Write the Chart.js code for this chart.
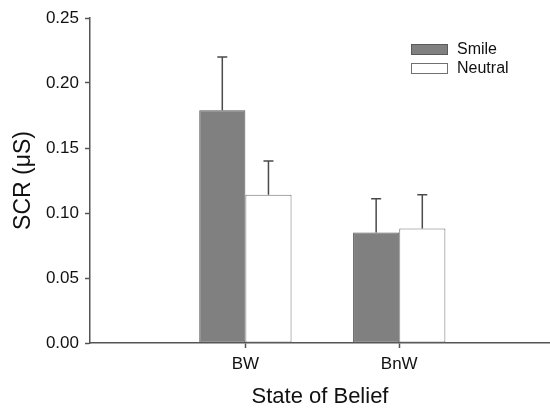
<!DOCTYPE html>
<html>
<head>
<meta charset="utf-8">
<script src="https://cdn.jsdelivr.net/npm/chart.js@4/dist/chart.umd.min.js"></script>
<style>
  html, body { margin: 0; padding: 0; background: #ffffff; }
  #wrap { width: 550px; height: 408px; }
</style>
</head>
<body>
<div id="wrap"><canvas id="grafico"></canvas></div>
<script>
// dados
const categorias = ['BW', 'BnW'];
const smile = [0.179, 0.085];
const neutral = [0.114, 0.088];
const erroSmile = [0.041, 0.026];
const erroNeutral = [0.026, 0.026];
const ticksY = [0, 0.05, 0.10, 0.15, 0.20, 0.25];

const fonte = "'Liberation Sans', Arial, sans-serif";
const corEixo = '#555555';

// pontos {x, y} a partir dos arrays (x = posição da categoria)
function pontos(valores) {
  return valores.map((v, i) => ({ x: i + 1, y: v }));
}

// barras de erro (só para cima)
const barrasErro = {
  id: 'barrasErro',
  afterDatasetsDraw(chart) {
    const ctx = chart.ctx;
    const y = chart.scales.y;
    ctx.save();
    ctx.strokeStyle = '#4a4a4a';
    ctx.lineWidth = 1.5;
    chart.data.datasets.forEach((ds, d) => {
      const meta = chart.getDatasetMeta(d);
      meta.data.forEach((bar, i) => {
        const topo = y.getPixelForValue(ds.data[i].y + ds.erro[i]);
        ctx.beginPath();
        ctx.moveTo(bar.x, bar.y);
        ctx.lineTo(bar.x, topo);
        ctx.moveTo(bar.x - 5, topo);
        ctx.lineTo(bar.x + 5, topo);
        ctx.stroke();
      });
    });
    ctx.restore();
  }
};

// legenda desenhada dentro da área do gráfico
const legenda = {
  id: 'legenda',
  afterDraw(chart) {
    const ctx = chart.ctx;
    ctx.save();
    ctx.font = '16px ' + fonte;
    ctx.textBaseline = 'middle';
    chart.data.datasets.forEach((ds, d) => {
      const x = 411;
      const y = 44 + d * 19;
      ctx.fillStyle = ds.backgroundColor;
      ctx.fillRect(x, y, 36, 10);
      ctx.strokeStyle = ds.borderColor;
      ctx.lineWidth = 1;
      ctx.strokeRect(x + 0.5, y + 0.5, 36, 10);
      ctx.fillStyle = '#111111';
      ctx.fillText(ds.label, 457, y + 5.5);
    });
    ctx.restore();
  }
};

const ctx = document.getElementById('grafico').getContext('2d');

const grafico = new Chart(ctx, {
  type: 'bar',
  data: {
    datasets: [{
      label: 'Smile',
      data: pontos(smile),
      erro: erroSmile,
      backgroundColor: '#808080',
      borderColor: '#5a5a5a',
      borderWidth: 1,
      borderSkipped: false
    }, {
      label: 'Neutral',
      data: pontos(neutral),
      erro: erroNeutral,
      backgroundColor: '#ffffff',
      borderColor: '#707070',
      borderWidth: 1,
      borderSkipped: false
    }]
  },
  options: {
    responsive: true,
    maintainAspectRatio: false,
    animation: false,
    categoryPercentage: 0.6,
    barPercentage: 1,
    layout: { padding: { top: 18, right: 0, left: 0, bottom: 0 } },
    plugins: {
      legend: { display: false },
      tooltip: { enabled: false }
    },
    scales: {
      x: {
        type: 'linear',
        min: -0.01,
        max: 2.98,
        offset: false,
        afterBuildTicks: axis => {
          axis.ticks = categorias.map((c, i) => ({ value: i + 1 }));
        },
        afterFit: axis => { axis.height = 65; },
        grid: { offset: false, drawOnChartArea: false, drawTicks: true, tickLength: 5, color: corEixo, tickWidth: 1.5 },
        border: { display: true, color: corEixo, width: 1.5 },
        ticks: {
          padding: 6,
          color: '#111111',
          font: { family: fonte, size: 17 },
          callback: (valor, index) => categorias[index]
        },
        title: {
          display: true,
          text: 'State of Belief',
          color: '#111111',
          font: { family: fonte, size: 22, lineHeight: 1 },
          padding: { top: 0, bottom: 0 }
        }
      },
      y: {
        min: 0,
        max: 0.25,
        afterBuildTicks: axis => {
          axis.ticks = ticksY.map(v => ({ value: v }));
        },
        afterFit: axis => { axis.width = 90; },
        grid: { drawOnChartArea: false, drawTicks: true, tickLength: 5, color: corEixo, tickWidth: 1.5 },
        border: { display: true, color: corEixo, width: 1.5 },
        ticks: {
          padding: 6,
          color: '#111111',
          font: { family: fonte, size: 17 },
          callback: valor => valor.toFixed(2)
        },
        title: {
          display: true,
          text: 'SCR (μS)',
          color: '#111111',
          font: { family: fonte, size: 23, lineHeight: 1 },
          padding: { top: 12, bottom: 0 }
        }
      }
    }
  },
  plugins: [barrasErro, legenda]
});
</script>
</body>
</html>
